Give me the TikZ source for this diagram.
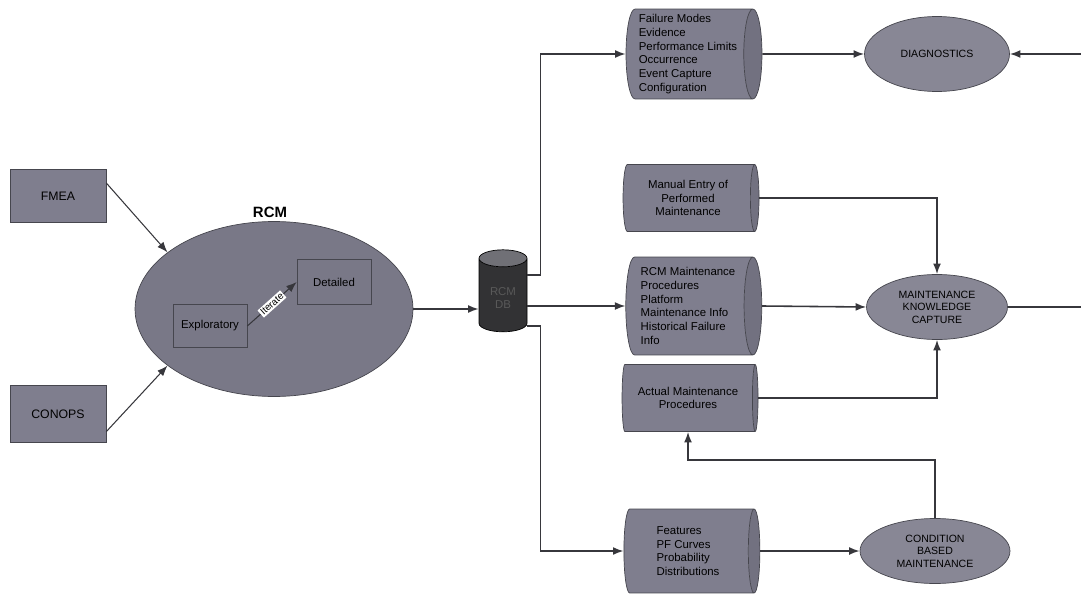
\documentclass[tikz,border=0pt]{standalone}
\usepackage{fontspec}
\setmainfont{Liberation Sans}
\usetikzlibrary{shapes.geometric,arrows.meta}
\definecolor{boxgray}{RGB}{127,126,142}
\definecolor{ellgray}{RGB}{136,135,149}
\definecolor{rimgray}{RGB}{70,70,78}
\definecolor{linegray}{RGB}{55,55,60}
\definecolor{dbdark}{RGB}{50,50,52}
\definecolor{dbtop}{RGB}{112,112,118}

\begin{document}
\begin{tikzpicture}[x=0.02cm,y=-0.02cm]
    \tikzstyle{every node}=[font=\fontsize{6.5}{7.8}\selectfont,text=black]
    \tikzset{box/.style={draw=rimgray,fill=boxgray,rectangle,minimum width=1.92cm,minimum height=1.06cm,font=\fontsize{7}{8}\selectfont}}
    \tikzset{blob/.style={draw=rimgray,fill=ellgray,ellipse,inner sep=0pt,align=center,font=\fontsize{6}{7.1}\selectfont}}
    % horizontal cylinder: minimum height runs along the axis
    \tikzset{store/.style={draw=rimgray,cylinder,aspect=0.22,cylinder uses custom fill,cylinder body fill=boxgray,cylinder end fill=boxgray!90!black,minimum height=2.72cm,inner sep=1pt}}
    \tikzset{arr/.style={draw=linegray,line width=0.9pt,-{Latex[length=6pt,width=4.5pt]}}}
    \tikzset{wire/.style={draw=linegray,line width=0.9pt}}
    \useasboundingbox (0,0) rectangle (1081,598);

    % inputs and the RCM process
    \node[box] (fmea) at (58,196) {FMEA};
    \node[box,minimum height=1.14cm] (conops) at (58,414) {CONOPS};
    \node[font=\fontsize{8.5}{10}\selectfont\bfseries] (rcmlabel) at (270,212) {RCM};
    \node[blob,fill=boxgray!95!black,minimum width=5.56cm,minimum height=3.5cm] (rcm) at (274,309) {};
    \node[box,fill=boxgray!95!black,minimum width=1.48cm,minimum height=0.86cm,font=\fontsize{6.5}{7.8}\selectfont] (expl) at (210,326) {Exploratory};
    \node[box,fill=boxgray!95!black,minimum width=1.48cm,minimum height=0.9cm,font=\fontsize{6.5}{7.8}\selectfont] (det) at (334,282) {Detailed};
    \draw[arr,line width=0.6pt] (expl.east) -- (det.west)
        node[midway,sloped,fill=white,inner sep=0.8pt,font=\fontsize{5.5}{6}\selectfont] {Iterate};

    % database
    \node[cylinder,shape border rotate=90,aspect=0.45,draw=black,cylinder uses custom fill,cylinder body fill=dbdark,cylinder end fill=dbtop,minimum width=0.96cm,minimum height=1.64cm,text=gray!70!black,align=center] (db) at (503,298) {RCM\\DB};

    % stores
    \node[store,align=left,minimum width=1.8cm] (fm) at (688,54) {Failure Modes\\Evidence\\Performance Limits\\Occurrence\\Event Capture\\Configuration};
    \node[store,align=center,minimum width=1.34cm] (me) at (688,198) {Manual Entry of\\Performed\\Maintenance};
    \node[store,align=left,minimum width=1.96cm] (rm) at (688,306) {RCM Maintenance\\Procedures\\Platform\\Maintenance Info\\Historical Failure\\Info};
    \node[store,align=center,minimum width=1.34cm] (am) at (688,398) {Actual Maintenance\\Procedures};
    \node[store,align=left,minimum width=1.68cm] (ft) at (688,551) {Features\\PF Curves\\Probability\\Distributions};

    % outputs
    \node[blob,minimum width=2.9cm,minimum height=1.5cm] (diag) at (937,54) {DIAGNOSTICS};
    \node[blob,minimum width=2.82cm,minimum height=1.3cm] (mkc) at (937,307) {MAINTENANCE\\KNOWLEDGE\\CAPTURE};
    \node[blob,minimum width=3cm,minimum height=1.3cm] (cbm) at (935,551) {CONDITION\\BASED\\MAINTENANCE};
    \coordinate (dgin) at (1081,54);
    \coordinate (mkout) at (1081,307);

    % connectors
    \draw[arr,line width=0.6pt] (fmea.15) -- (rcm.152);
    \draw[arr,line width=0.6pt] (conops.-20) -- (rcm.208);
    \draw[arr] (rcm.east) -- (db.west |- rcm.east);
    \draw[arr] ([yshift=0.46cm]db.east) -- ++(13,0) |- (fm.west);
    \draw[arr] (db.east |- rm.west) -- (rm.west);
    \draw[arr] ([yshift=-0.56cm]db.east) -- ++(13,0) |- (ft.west);
    \draw[arr] (fm.east) -- (diag.west);
    \draw[arr] (dgin) -- (diag.east);
    \draw[arr] (me.east) -| (mkc.north);
    \draw[arr] (rm.east) -- (mkc.west);
    \draw[wire] (mkc.east) -- (mkout);
    \draw[arr] (am.east) -| (mkc.south);
    \draw[arr] (cbm.north) -- ++(0,-58) -| (am.south);
    \draw[arr] (ft.east) -- (cbm.west);
\end{tikzpicture}
\end{document}
